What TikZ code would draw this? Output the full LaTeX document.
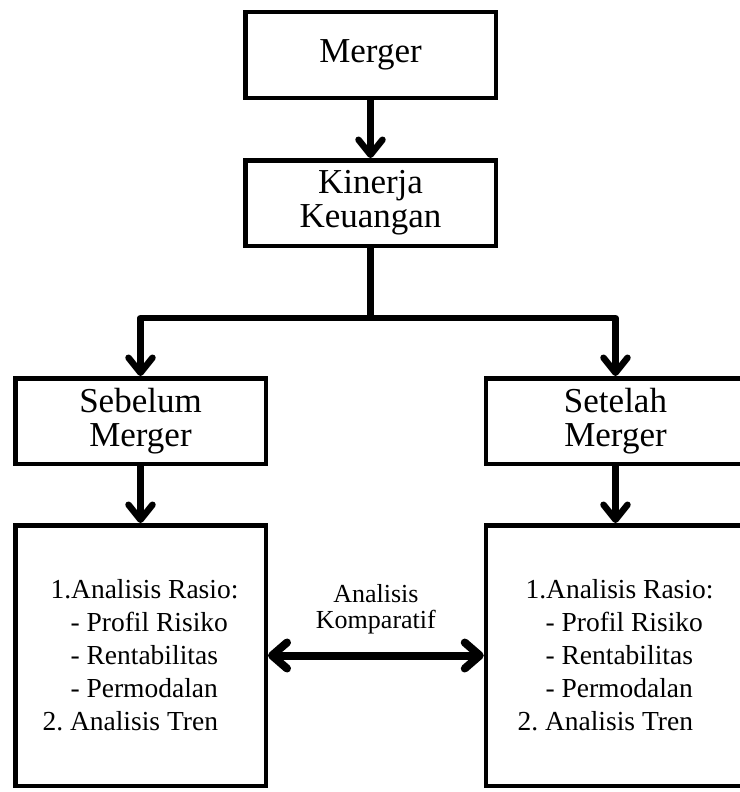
\documentclass[tikz,border=0pt]{standalone}
\usepackage{fontspec}
\setmainfont{Liberation Serif}
\usetikzlibrary{positioning,arrows.meta}

\begin{document}
\begin{tikzpicture}[x=1pt,y=1pt,
    box/.style={draw, line width=4.5pt, minimum width=250.5pt, minimum height=85.5pt,
      inner sep=0pt, align=center, font=\fontsize{35}{34}\selectfont},
    list/.style={draw, line width=4.5pt, minimum width=250.5pt, minimum height=260.5pt,
      align=left, font=\fontsize{27.5}{33}\selectfont},
    flow/.style={line width=6.5pt, line join=round, -{Straight Barb[length=15pt,width=24pt,round]}},
    both/.style={line width=8pt, {Straight Barb[length=15pt,width=26pt,round]}-{Straight Barb[length=15pt,width=26pt,round]}}]
  \useasboundingbox (0,0) rectangle (739,-792);

  \node[box] (merger) at (370.5,-55) {Merger};
  \node[box, below=58pt of merger] (kinerja) {Kinerja\\Keuangan};
  \coordinate[below=70pt of kinerja] (split);
  \node[box, below=128pt of kinerja, xshift=-230pt] (sebelum) {Sebelum\\Merger};
  \node[box, below=128pt of kinerja, xshift=245pt, minimum width=259pt] (setelah) {Setelah\\Merger};
  \node[list, below=57pt of sebelum] (rasio1) {\hspace*{8pt}1.Analisis Rasio:\\
    \hspace*{28pt}- Profil Risiko\\ \hspace*{28pt}- Rentabilitas\\
    \hspace*{28pt}- Permodalan\\ 2.\ Analisis Tren};
  \node[list, below=57pt of setelah, minimum width=259pt] (rasio2) {\hspace*{8pt}1.Analisis Rasio:\\
    \hspace*{28pt}- Profil Risiko\\ \hspace*{28pt}- Rentabilitas\\
    \hspace*{28pt}- Permodalan\\ 2.\ Analisis Tren};

  \draw[flow] (merger.south) -- (kinerja.north);
  \draw[flow] (kinerja.south) -- (split) -| (sebelum.north);
  \draw[flow] (kinerja.south) -- (split) -| (setelah.north);
  \draw[flow] (sebelum.south) -- (rasio1.north);
  \draw[flow] (setelah.south) -- (rasio2.north);
  \draw[both] (rasio1.east) -- node[above=14pt, align=center, font=\fontsize{26}{26}\selectfont] (komparatif) {Analisis\\Komparatif} (rasio2.west);
\end{tikzpicture}
\end{document}
